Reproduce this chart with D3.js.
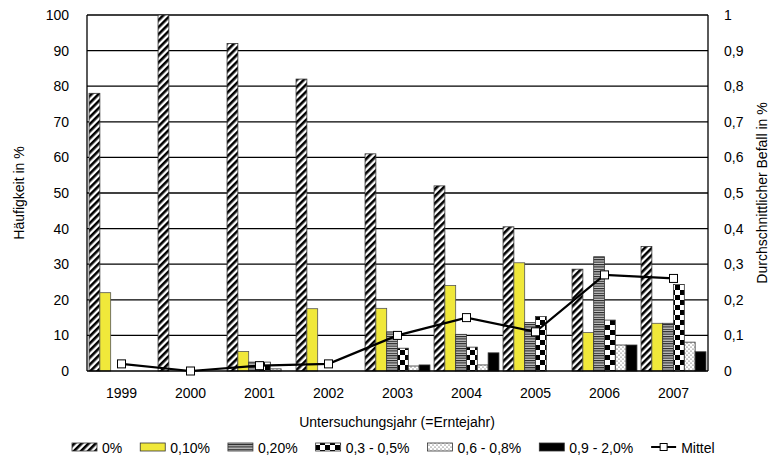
<!DOCTYPE html>
<html>
<head>
<meta charset="utf-8">
<script src="https://cdn.jsdelivr.net/npm/d3@7"></script>
<style>
  body { margin: 0; background: #fff; }
  text { font-family: "Liberation Sans", Arial, sans-serif; fill: #000; }
</style>
</head>
<body>
<svg id="chart"></svg>
<script>
const years = ["1999", "2000", "2001", "2002", "2003", "2004", "2005", "2006", "2007"];
const classes = ["0%", "0,10%", "0,20%", "0,3 - 0,5%", "0,6 - 0,8%", "0,9 - 2,0%"];

const share0 = [78, 100, 92, 82, 61, 52, 40.5, 28.6, 35];
const share010 = [22, 0, 5.5, 17.5, 17.6, 24, 30.4, 10.8, 13.4];
const share020 = [0, 0, 2.5, 0, 11, 10.3, 13.6, 32.1, 13.4];
const share035 = [0, 0, 2.5, 0, 6.4, 6.7, 15.3, 14.3, 24.3];
const share068 = [0, 0, 0.6, 0, 1.4, 1.7, 0, 7.3, 8.1];
const share092 = [0, 0, 0, 0, 1.7, 5.1, 0, 7.3, 5.4];
const mittel = [0.02, 0, 0.015, 0.02, 0.10, 0.15, 0.11, 0.27, 0.26];

const leftTicks = [0, 10, 20, 30, 40, 50, 60, 70, 80, 90, 100];
const rightTicks = [0, 0.1, 0.2, 0.3, 0.4, 0.5, 0.6, 0.7, 0.8, 0.9, 1];

const seriesValues = [share0, share010, share020, share035, share068, share092];

const width = 774;
const height = 461;
const plotL = 87, plotR = 708, plotT = 15, plotB = 371;

const svg = d3.select("#chart")
    .attr("width", width)
    .attr("height", height);

// patterns
const defs = svg.append("defs");

const hatch = defs.append("pattern")
    .attr("id", "p-hatch")
    .attr("patternUnits", "userSpaceOnUse")
    .attr("width", 5).attr("height", 5)
    .attr("patternTransform", "rotate(45)");
hatch.append("rect").attr("width", 5).attr("height", 5).attr("fill", "#fff");
hatch.append("rect").attr("width", 2.6).attr("height", 5).attr("fill", "#000");

const hstripe = defs.append("pattern")
    .attr("id", "p-hstripe")
    .attr("patternUnits", "userSpaceOnUse")
    .attr("width", 4).attr("height", 2.4);
hstripe.append("rect").attr("width", 4).attr("height", 2.4).attr("fill", "#c8c8c8");
hstripe.append("rect").attr("width", 4).attr("height", 1.1).attr("fill", "#222");

const checker = defs.append("pattern")
    .attr("id", "p-checker")
    .attr("patternUnits", "userSpaceOnUse")
    .attr("width", 10).attr("height", 10);
checker.append("rect").attr("width", 10).attr("height", 10).attr("fill", "#fff");
checker.append("rect").attr("width", 5).attr("height", 5).attr("fill", "#000");
checker.append("rect").attr("x", 5).attr("y", 5).attr("width", 5).attr("height", 5).attr("fill", "#000");

const dots = defs.append("pattern")
    .attr("id", "p-dots")
    .attr("patternUnits", "userSpaceOnUse")
    .attr("width", 4).attr("height", 4);
dots.append("rect").attr("width", 4).attr("height", 4).attr("fill", "#fff");
dots.append("circle").attr("cx", 1).attr("cy", 1).attr("r", 0.6).attr("fill", "#333");
dots.append("circle").attr("cx", 3).attr("cy", 3).attr("r", 0.6).attr("fill", "#333");

const fills = ["url(#p-hatch)", "#f0e83a", "url(#p-hstripe)", "url(#p-checker)", "url(#p-dots)", "#000"];

// scales
const x0 = d3.scaleBand().domain(years).range([plotL, plotR]);
const x1 = d3.scaleBand().domain(classes).range([0, x0.bandwidth()]).paddingOuter(0.19);
const yL = d3.scaleLinear().domain([0, 100]).range([plotB, plotT]);
const yR = d3.scaleLinear().domain([0, 1]).range([plotB, plotT]);

// gridlines
svg.append("g").selectAll("line")
    .data(leftTicks.slice(1))
    .join("line")
    .attr("x1", plotL).attr("x2", plotR)
    .attr("y1", d => yL(d)).attr("y2", d => yL(d))
    .attr("stroke", "#000").attr("stroke-width", 1.3);

// bars
const rows = [];
years.forEach((yr, i) => {
    classes.forEach((c, j) => rows.push({ yr, c, j, v: seriesValues[j][i] }));
});

svg.append("g").selectAll("rect")
    .data(rows.filter(d => d.v > 0))
    .join("rect")
    .attr("x", d => x0(d.yr) + x1(d.c))
    .attr("y", d => yL(d.v))
    .attr("width", x1.bandwidth())
    .attr("height", d => yL(0) - yL(d.v))
    .attr("fill", d => fills[d.j])
    .attr("stroke", d => d.j === 1 ? "#555" : "#333")
    .attr("stroke-width", 0.8);

// axis lines
svg.append("line").attr("x1", plotL).attr("x2", plotL).attr("y1", plotT).attr("y2", plotB)
    .attr("stroke", "#000").attr("stroke-width", 1.3);
svg.append("line").attr("x1", plotR).attr("x2", plotR).attr("y1", plotT).attr("y2", plotB)
    .attr("stroke", "#000").attr("stroke-width", 1.3);
svg.append("line").attr("x1", plotL).attr("x2", plotR).attr("y1", plotB).attr("y2", plotB)
    .attr("stroke", "#000").attr("stroke-width", 1.3);

// Mittel line
const cx = d => x0(d) + x0.bandwidth() / 2;
const line = d3.line()
    .x((d, i) => cx(years[i]))
    .y(d => yR(d));

svg.append("path")
    .datum(mittel)
    .attr("d", line)
    .attr("fill", "none")
    .attr("stroke", "#000")
    .attr("stroke-width", 2.2);

svg.append("g").selectAll("rect")
    .data(mittel)
    .join("rect")
    .attr("x", (d, i) => cx(years[i]) - 4)
    .attr("y", d => yR(d) - 4)
    .attr("width", 8).attr("height", 8)
    .attr("fill", "#fff")
    .attr("stroke", "#000")
    .attr("stroke-width", 1);

// tick labels
const fmt = d3.format(".1f");
svg.append("g").selectAll("text")
    .data(leftTicks)
    .join("text")
    .attr("x", 69).attr("y", d => yL(d))
    .attr("dy", "0.35em")
    .attr("text-anchor", "end")
    .attr("font-size", 14)
    .text(d => d);

svg.append("g").selectAll("text")
    .data(rightTicks)
    .join("text")
    .attr("x", 724).attr("y", d => yR(d))
    .attr("dy", "0.35em")
    .attr("font-size", 14)
    .text(d => d === 0 || d === 1 ? String(d) : fmt(d).replace(".", ","));

svg.append("g").selectAll("text")
    .data(years)
    .join("text")
    .attr("x", d => cx(d)).attr("y", 398)
    .attr("text-anchor", "middle")
    .attr("font-size", 14)
    .text(d => d);

// titles
svg.append("text")
    .attr("x", 397).attr("y", 427)
    .attr("text-anchor", "middle")
    .attr("font-size", 14)
    .text("Untersuchungsjahr (=Erntejahr)");

svg.append("text")
    .attr("transform", `translate(24, ${(plotT + plotB) / 2}) rotate(-90)`)
    .attr("text-anchor", "middle")
    .attr("font-size", 14)
    .text("Häufigkeit in %");

svg.append("text")
    .attr("transform", `translate(767, ${(plotT + plotB) / 2}) rotate(-90)`)
    .attr("text-anchor", "middle")
    .attr("font-size", 14)
    .text("Durchschnittlicher Befall in %");

// legend
const legend = svg.append("g");
let lx = 72;
const ly = 443;
classes.concat(["Mittel"]).forEach((name, j) => {
    if (j < classes.length) {
        legend.append("rect")
            .attr("x", lx).attr("y", ly)
            .attr("width", 25).attr("height", 8)
            .attr("fill", fills[j])
            .attr("stroke", "#333").attr("stroke-width", 0.8);
    } else {
        legend.append("line")
            .attr("x1", lx).attr("x2", lx + 25)
            .attr("y1", ly + 4).attr("y2", ly + 4)
            .attr("stroke", "#000").attr("stroke-width", 2);
        legend.append("rect")
            .attr("x", lx + 9).attr("y", ly + 0.5).attr("width", 7).attr("height", 7)
            .attr("fill", "#fff").attr("stroke", "#000").attr("stroke-width", 1);
    }
    const t = legend.append("text")
        .attr("x", lx + 30).attr("y", ly + 10)
        .attr("font-size", 14)
        .text(name);
    lx += 30 + t.node().getComputedTextLength() + 18;
});
</script>
</body>
</html>
